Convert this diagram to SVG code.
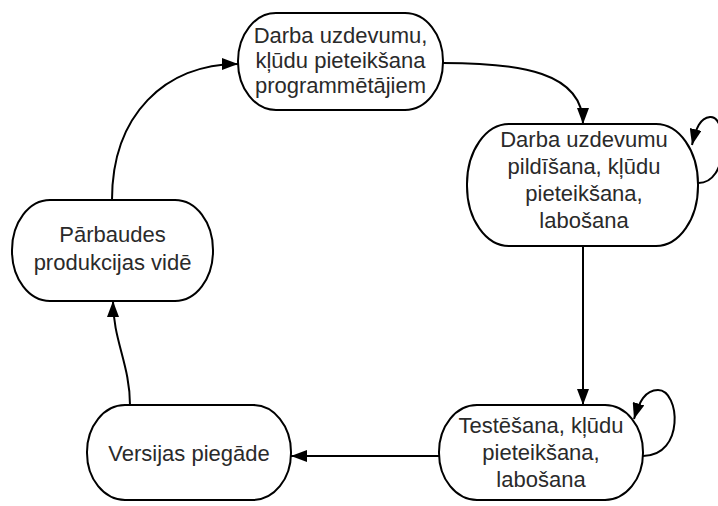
<svg xmlns="http://www.w3.org/2000/svg" width="718" height="506" viewBox="0 0 718 506">
<style>
.node{fill:#fff;stroke:#000;stroke-width:2}
.lbl{font-family:"Liberation Sans",Arial,sans-serif;font-size:22px;fill:#2a2a2a;text-anchor:middle}
.edge{fill:none;stroke:#000;stroke-width:2}
</style>
<defs>
<marker id="arrL" viewBox="0 0 16 12" refX="16" refY="6" markerWidth="16" markerHeight="12" markerUnits="userSpaceOnUse" orient="auto">
<path d="M0,0 L16,6 L0,12 Z" fill="#000"/>
</marker>
</defs>
<g id="connectors">
<path class="edge" d="M443,63 C520,63 583,72 583,124" marker-end="url(#arrL)"/>
<path class="edge" d="M583,246 L583,405" marker-end="url(#arrL)"/>
<path class="edge" d="M439,456 L291,456" marker-end="url(#arrL)"/>
<path class="edge" d="M130,405 C130,365 113,340 113,301" marker-end="url(#arrL)"/>
<path class="edge" d="M112,200 C112,115 165,64 238,64" marker-end="url(#arrL)"/>
<path class="edge" d="M697,183 C730,185 728,115 710,117 C700,118 696,128 692,145" marker-end="url(#arrL)"/>
<path class="edge" d="M643,456 C685,456 680,390 658,390 C645,390 639,402 634,419" marker-end="url(#arrL)"/>
</g>
<g id="n1">
<rect class="node" x="238" y="13" width="205" height="97" rx="38" ry="48"/>
<text class="lbl" x="340.5" y="43">Darba uzdevumu,</text>
<text class="lbl" x="340.5" y="68">kļūdu pieteikšana</text>
<text class="lbl" x="340.5" y="93">programmētājiem</text>
</g>
<g id="n2">
<rect class="node" x="467" y="124" width="231" height="122" rx="42" ry="60"/>
<text class="lbl" x="584" y="147">Darba uzdevumu</text>
<text class="lbl" x="584" y="174">pildīšana, kļūdu</text>
<text class="lbl" x="584" y="201">pieteikšana,</text>
<text class="lbl" x="584" y="228">labošana</text>
</g>
<g id="n3">
<rect class="node" x="439" y="405" width="204" height="95" rx="38" ry="47"/>
<text class="lbl" x="541" y="433">Testēšana, kļūdu</text>
<text class="lbl" x="541" y="460">pieteikšana,</text>
<text class="lbl" x="541" y="487">labošana</text>
</g>
<g id="n4">
<rect class="node" x="87" y="405" width="204" height="95" rx="38" ry="47"/>
<text class="lbl" x="189" y="461">Versijas piegāde</text>
</g>
<g id="n5">
<rect class="node" x="12" y="200" width="201" height="101" rx="38" ry="50"/>
<text class="lbl" x="112.5" y="242">Pārbaudes</text>
<text class="lbl" x="112.5" y="270">produkcijas vidē</text>
</g>
</svg>
